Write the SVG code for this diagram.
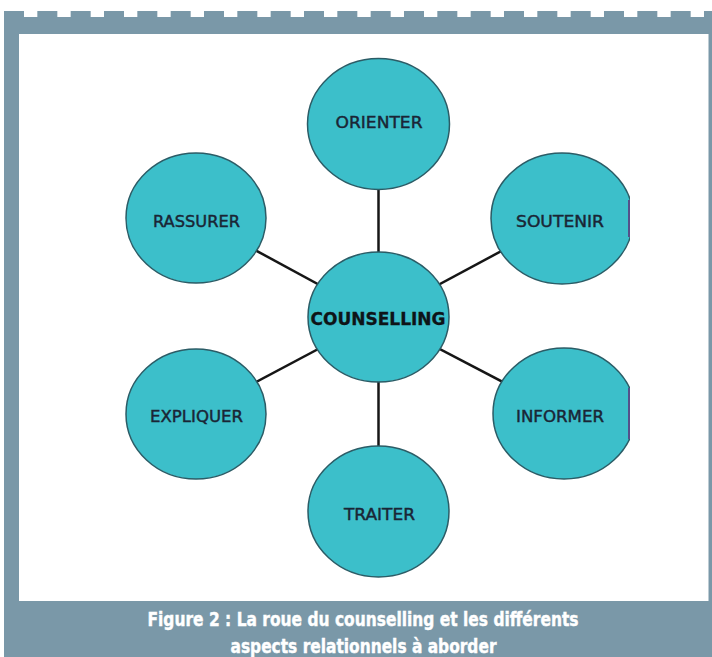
<svg xmlns="http://www.w3.org/2000/svg" width="712" height="657" viewBox="0 0 712 657">
  <style>
    .frame { fill: #7a98a8; }
    .node { fill: #3cbfca; stroke: #2b5c66; stroke-width: 1.5; }
    .label { font-family: "DejaVu Sans", "Liberation Sans", sans-serif; font-size: 16.5px; fill: #1a2535; text-anchor: middle; stroke: #1a2535; stroke-width: 0.45; }
    .hub { font-family: "DejaVu Sans", "Liberation Sans", sans-serif; font-size: 17px; font-weight: bold; fill: #0e1418; text-anchor: middle; stroke: #0e1418; stroke-width: 0.3; }
    .link { stroke: #161616; stroke-width: 2.5; stroke-linecap: butt; }
    .cut { stroke: #55508a; stroke-width: 2; }
    .caption { font-family: "Liberation Sans Narrow", "DejaVu Sans Condensed", "Liberation Sans", sans-serif; font-size: 19px; font-weight: bold; fill: #ffffff; text-anchor: middle; stroke: #ffffff; stroke-width: 0.4; }
  </style>
  <defs>
    <clipPath id="wheelArea">
      <rect x="19" y="34" width="611" height="567"/>
    </clipPath>
  </defs>

  <!-- page frame -->
  <g id="frame">
    <rect class="frame" x="4" y="17" width="708" height="640"/>
    <line x1="4" y1="14" x2="712" y2="14" stroke="#7a98a8" stroke-width="6" stroke-dasharray="20 13.333"/>
    <rect x="19" y="34" width="689.5" height="567" fill="#ffffff"/>
  </g>

  <g clip-path="url(#wheelArea)">
    <!-- spokes -->
    <g id="connectors">
      <line class="link" x1="378.5" y1="124" x2="378.5" y2="317"/>
      <line class="link" x1="378.5" y1="317" x2="378.5" y2="511.5"/>
      <line class="link" x1="196" y1="218" x2="378.5" y2="317"/>
      <line class="link" x1="196" y1="414" x2="378.5" y2="317"/>
      <line class="link" x1="562" y1="218.5" x2="378.5" y2="317"/>
      <line class="link" x1="563" y1="413.5" x2="378.5" y2="317"/>
    </g>

    <g id="node-orienter">
      <ellipse class="node" cx="378.5" cy="124" rx="71" ry="65.5"/>
      <text class="label" x="379" y="128" textLength="87" lengthAdjust="spacingAndGlyphs">ORIENTER</text>
    </g>
    <g id="node-rassurer">
      <ellipse class="node" cx="196" cy="218" rx="70" ry="65"/>
      <text class="label" x="196.5" y="227" textLength="87" lengthAdjust="spacingAndGlyphs">RASSURER</text>
    </g>
    <g id="node-soutenir">
      <ellipse class="node" cx="562" cy="218.5" rx="71" ry="65.5"/>
      <line class="cut" x1="629" y1="200" x2="629" y2="237"/>
      <text class="label" x="560" y="227" textLength="88" lengthAdjust="spacingAndGlyphs">SOUTENIR</text>
    </g>
    <g id="node-counselling">
      <ellipse class="node" cx="378.5" cy="317" rx="70.5" ry="65"/>
      <text class="hub" x="378" y="324.5" textLength="135" lengthAdjust="spacingAndGlyphs">COUNSELLING</text>
    </g>
    <g id="node-expliquer">
      <ellipse class="node" cx="196" cy="414" rx="70" ry="65"/>
      <text class="label" x="196.5" y="421.5" textLength="93" lengthAdjust="spacingAndGlyphs">EXPLIQUER</text>
    </g>
    <g id="node-informer">
      <ellipse class="node" cx="564" cy="413.5" rx="71" ry="65.5"/>
      <line class="cut" x1="629" y1="388" x2="629" y2="439"/>
      <text class="label" x="560" y="422" textLength="88" lengthAdjust="spacingAndGlyphs">INFORMER</text>
    </g>
    <g id="node-traiter">
      <ellipse class="node" cx="378.5" cy="511.5" rx="70.5" ry="65.5"/>
      <text class="label" x="379.5" y="519.5" textLength="71" lengthAdjust="spacingAndGlyphs">TRAITER</text>
    </g>
  </g>

  <!-- caption -->
  <g id="caption">
    <text class="caption" x="363" y="626" textLength="431" lengthAdjust="spacingAndGlyphs">Figure 2 : La roue du counselling et les différents</text>
    <text class="caption" x="363.5" y="653" textLength="266" lengthAdjust="spacingAndGlyphs">aspects relationnels à aborder</text>
  </g>
</svg>
